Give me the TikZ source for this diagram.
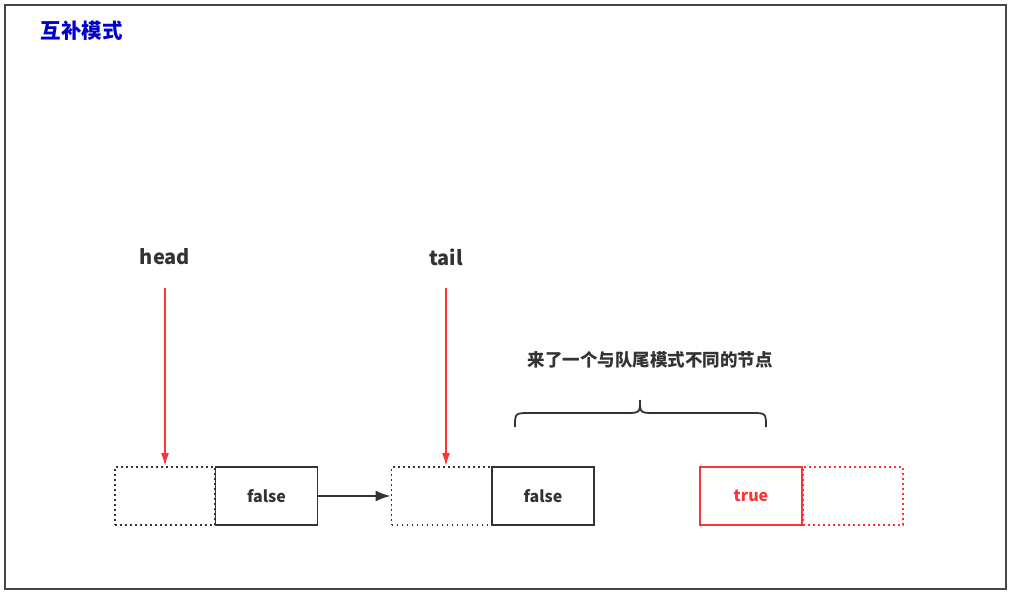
\documentclass[tikz,border=0pt]{standalone}
\usepackage{fontspec}
\setmainfont{Noto Sans CJK SC}
\usetikzlibrary{arrows.meta}
\definecolor{dk}{HTML}{333333}
\definecolor{rd}{HTML}{FF3333}
\definecolor{bl}{HTML}{0000CC}
\tikzset{
  solidbox/.style={draw=dk, line width=1.8pt, minimum width=102pt, minimum height=58pt, inner sep=0pt, font=\bfseries\fontsize{16}{18}\selectfont, text=dk},
  dotbox/.style={draw=dk, line width=1.8pt, dash pattern=on 1.8pt off 3.2pt, minimum width=100pt, minimum height=58pt, inner sep=0pt},
  lbl/.style={font=\bfseries\fontsize{20}{22}\selectfont, text=dk},
  redarrow/.style={draw=rd, line width=1.8pt, -{Latex[length=13pt,width=8pt]}},
}
\begin{document}
\begin{tikzpicture}[x=1pt,y=-1pt]
\useasboundingbox (0,0) rectangle (1012,597);
\draw[draw=dk!90, line width=2pt] (5,5) rectangle (1006,589);
\node[font=\bfseries\fontsize{20.5}{22}\selectfont, text=bl, anchor=west] (title) at (37,31) {互补模式};

\node[dotbox] (d1) at (165,496) {};
\node[solidbox] (f1) at (266.5,496) {false};
\node[dotbox] (d2) at (441.5,496) {};
\node[solidbox] (f2) at (543,496) {false};
\node[solidbox, draw=rd, text=rd] (t1) at (751,496) {true};
\node[dotbox, draw=rd] (d3) at (853,496) {};

\draw[draw=dk, line width=2pt, -{Latex[length=15pt,width=11pt]}] (f1.east) -- (d2.west);

\node[lbl] (head) at (165,257) {head};
\node[lbl] (tail) at (446,257) {tail};
\coordinate (hs) at (165,288);
\coordinate (ts) at (446,288);
\draw[redarrow] (hs) -- (d1.north);
\draw[redarrow] (ts) -- (d2.north -| ts);

\node[font=\bfseries\fontsize{17.5}{20}\selectfont, text=dk] (note) at (650,360) {来了一个与队尾模式不同的节点};
\draw[draw=dk, line width=1.8pt] (515,427) .. controls (515,413) .. (530,413) -- (625,413) .. controls (640,413) .. (640,400) .. controls (640,413) .. (655,413) -- (751,413) .. controls (766,413) .. (766,427);
\end{tikzpicture}
\end{document}
